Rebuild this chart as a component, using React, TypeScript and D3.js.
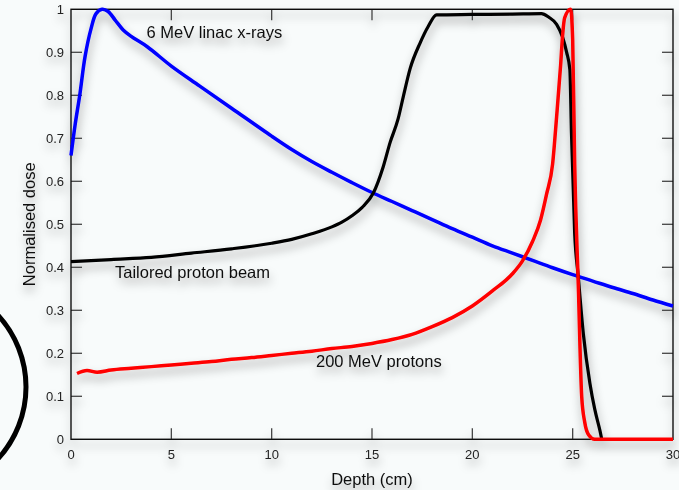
import React from "react";
import * as d3 from "d3";

// Depth-dose curves (depth in cm, dose normalised to 1)
const xrayDepth = [0, 0.2, 0.45, 0.7, 1.0, 1.25, 1.55, 1.85, 2.2, 2.6, 3.0, 3.8, 5, 6.4, 8, 10, 11, 12, 13, 14, 15, 16, 17, 18, 19, 20, 21, 22, 23, 24, 25, 26, 27, 28, 29, 30];
const xrayDose = [0.66, 0.73, 0.805, 0.89, 0.955, 0.99, 1.0, 0.995, 0.975, 0.952, 0.937, 0.913, 0.868, 0.822, 0.77, 0.705, 0.674, 0.646, 0.621, 0.597, 0.574, 0.553, 0.532, 0.511, 0.49, 0.47, 0.45, 0.433, 0.416, 0.399, 0.383, 0.368, 0.353, 0.339, 0.324, 0.31];

const tailoredDepth = [0, 2, 4, 6, 8, 10, 11, 12, 13, 13.5, 14, 14.5, 15.06, 15.56, 15.9, 16.3, 16.56, 16.9, 17.39, 17.8, 18.22, 20, 22, 23.45, 23.8, 24.2, 24.5, 24.7, 24.86, 24.94, 25.1, 25.28, 25.53, 25.86, 26.1, 26.36, 26.45];
const tailoredDose = [0.413, 0.418, 0.423, 0.433, 0.443, 0.456, 0.465, 0.478, 0.494, 0.505, 0.52, 0.539, 0.572, 0.634, 0.69, 0.745, 0.797, 0.862, 0.921, 0.96, 0.987, 0.988, 0.989, 0.99, 0.982, 0.965, 0.935, 0.9, 0.86, 0.712, 0.479, 0.378, 0.246, 0.13, 0.07, 0.02, 0.0];

const protonDepth = [0.3, 0.8, 1.3, 2, 3, 4, 5, 6, 7, 8, 9, 10, 11, 12, 13, 14, 15, 16, 17, 18, 19, 20, 21, 22, 22.5, 23, 23.4, 23.7, 24.0, 24.2, 24.4, 24.5, 24.6, 24.9, 25.0, 25.1, 25.28, 25.45, 25.6, 25.8, 26.1, 30];
const protonDose = [0.153, 0.16, 0.156, 0.161, 0.165, 0.169, 0.173, 0.177, 0.181, 0.186, 0.19, 0.195, 0.2, 0.205, 0.211, 0.216, 0.223, 0.232, 0.244, 0.262, 0.283, 0.31, 0.345, 0.385, 0.415, 0.46, 0.51, 0.57, 0.64, 0.75, 0.87, 0.94, 0.98, 1.0, 0.93, 0.64, 0.36, 0.1, 0.04, 0.01, 0.0, 0.0];

const xTicks = [0, 5, 10, 15, 20, 25, 30];
const yTicks = [0, 0.1, 0.2, 0.3, 0.4, 0.5, 0.6, 0.7, 0.8, 0.9, 1];

const W = 679;
const H = 490;
const left = 71;
const right = 673;
const top = 9.3;
const bottom = 439.3;
const tickLen = 11;

const FONT = "'Liberation Sans', Arial, sans-serif";

export default function App() {
  const x = d3.scaleLinear().domain([0, 30]).range([left, right]);
  const y = d3.scaleLinear().domain([0, 1]).range([bottom, top]);

  const smooth = d3
    .line<[number, number]>()
    .x((d) => x(d[0]))
    .y((d) => y(d[1]))
    .curve(d3.curveCatmullRom.alpha(0.5));

  const mono = d3
    .line<[number, number]>()
    .x((d) => x(d[0]))
    .y((d) => y(d[1]))
    .curve(d3.curveMonotoneX);

  const zip = (a: number[], b: number[]) => a.map((v, i) => [v, b[i]] as [number, number]);

  const innerX = xTicks.filter((t) => t > 0 && t < 30);
  const innerY = yTicks.filter((t) => t > 0 && t < 1);

  return (
    <svg
      width={W}
      height={H}
      style={{ position: "absolute", left: 0, top: 0, background: "#f8fbfb" }}
    >
      <defs>
        <filter id="soft" x="-10%" y="-10%" width="120%" height="130%">
          <feDropShadow dx="1" dy="6" stdDeviation="5" floodColor="#000" floodOpacity="0.36" />
        </filter>
      </defs>
      <rect x={0} y={0} width={W} height={H} fill="#f8fbfb" />

      {/* circle fragment at the left edge */}
      <circle cx={-80} cy={387} r={106} fill="none" stroke="#000" strokeWidth={5} />

      <g filter="url(#soft)">
        {/* inward ticks on all four sides */}
        <g stroke="#444" strokeWidth={1.3}>
          {innerX.map((t) => (
            <g key={"xt" + t}>
              <line x1={x(t)} x2={x(t)} y1={bottom} y2={bottom - tickLen} />
              <line x1={x(t)} x2={x(t)} y1={top} y2={top + tickLen} />
            </g>
          ))}
          {innerY.map((t) => (
            <g key={"yt" + t}>
              <line x1={left} x2={left + tickLen} y1={y(t)} y2={y(t)} />
              <line x1={right} x2={right - tickLen} y1={y(t)} y2={y(t)} />
            </g>
          ))}
        </g>
        <rect x={left} y={top} width={right - left} height={bottom - top} fill="none" stroke="#111" strokeWidth={1.4} />

        <path d={smooth(zip(xrayDepth, xrayDose)) ?? ""} fill="none" stroke="#0000ff" strokeWidth={3.5} strokeLinejoin="round" />
        <path d={mono(zip(tailoredDepth, tailoredDose)) ?? ""} fill="none" stroke="#000" strokeWidth={3.2} strokeLinejoin="round" />
        <path d={mono(zip(protonDepth, protonDose)) ?? ""} fill="none" stroke="#ff0000" strokeWidth={3.5} strokeLinejoin="round" />

        <g fontFamily={FONT} fontSize={13} fill="#222">
          {xTicks.map((t) => (
            <text key={"xl" + t} x={x(t)} y={459} textAnchor="middle">
              {t}
            </text>
          ))}
          {yTicks.map((t) => (
            <text key={"yl" + t} x={64} y={y(t) + 4.5} textAnchor="end">
              {t}
            </text>
          ))}
        </g>

        <g fontFamily={FONT} fontSize={16.5} fill="#111">
          <text x={146.5} y={38}>6 MeV linac x-rays</text>
          <text x={115} y={278}>Tailored proton beam</text>
          <text x={316} y={367}>200 MeV protons</text>
          <text x={(left + right) / 2} y={485} textAnchor="middle">Depth (cm)</text>
          <text transform={`translate(35,${(top + bottom) / 2}) rotate(-90)`} textAnchor="middle">
            Normalised dose
          </text>
        </g>
      </g>
    </svg>
  );
}
